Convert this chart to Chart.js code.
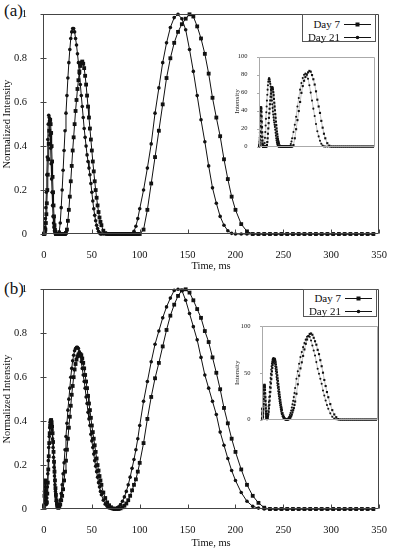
<!DOCTYPE html>
<html>
<head>
<meta charset="utf-8">
<script src="https://cdn.jsdelivr.net/npm/chart.js@4.4.1/dist/chart.umd.min.js"></script>
<style>
  html, body { margin:0; padding:0; background:#fff; }
  body { width:394px; height:550px; position:relative; overflow:hidden; font-family:"Liberation Serif","Times New Roman",serif; color:#111; }
  canvas { position:absolute; }
  .plab { position:absolute; font-size:17px; line-height:20px; }
  .legend { position:absolute; border:1px solid #555; background:#fff; box-sizing:border-box; }
  .legend .row { position:absolute; left:0; height:14px; line-height:14px; font-size:11px; }
  .legend .txt { position:absolute; top:0; text-align:right; white-space:nowrap; }
  .legend svg { position:absolute; top:0; }
</style>
</head>
<body>
<div class="plab" style="left:4px;top:1px">(a)</div>
<div class="plab" style="left:4px;top:279px">(b)</div>
<canvas id="mainA" width="394" height="275" style="left:0;top:0"></canvas>
<canvas id="mainB" width="394" height="275" style="left:0;top:275px"></canvas>
<canvas id="insetA" width="150" height="106" style="left:230px;top:48px"></canvas>
<canvas id="insetB" width="153" height="109" style="left:230px;top:318px"></canvas>
<div id="legA" class="legend" style="left:302px;top:14px;width:74px;height:28px"></div>
<div id="legB" class="legend" style="left:303px;top:289px;width:74px;height:28px"></div>
<script>
// ---------------- DATA ----------------
const seriesNames = ['Day 7', 'Day 21'];
const xTickValues = [0, 50, 100, 150, 200, 250, 300, 350];
const xTickLabels = ['0', '50', '100', '150', '200', '250', '300', '350'];
const yTickValues = [0, 0.2, 0.4, 0.6, 0.8, 1];
const yTickLabels = ['0', '0.2', '0.4', '0.6', '0.8', '1'];
const insetATickValues = [0, 20, 40, 60, 80, 100];
const insetATickLabels = ['0', '20', '40', '60', '80', '100'];
const insetBTickValues = [0, 50, 100];
const insetBTickLabels = ['0', '50', '100'];

// time, ms
const timeMs = [
  0,0.5,1,1.5,2,2.5,3,3.5,4,4.5,5,5.5,6,6.5,7,7.5,8,8.5,9,9.5,10,10.5,11,11.5,12,12.5,13,13.5,14,
  15,16,17,18,19,20,21,22,23,24,25,26,27,28,29,30,31,32,33,34,35,36,37,38,39,40,41,42,43,44,45,46,47,48,49,50,51,52,53,54,55,56,57,58,59,60,
  62,64,66,68,70,72,74,76,78,80,82,84,86,88,90,92,94,96,98,100,
  104,108,112,116,120,124,128,132,136,140,144,148,152,156,160,164,168,172,176,180,184,188,192,196,200,
  206,212,218,224,230,236,242,248,254,260,266,272,278,284,290,296,302,308,314,320,326,332,338,344
];

// panel (a) normalized intensity
const aDay7 = [
  0,0,0.01,0.02,0.05,0.09,0.14,0.2,0.27,0.34,0.41,0.47,0.51,0.52,0.5,0.46,0.4,0.33,0.26,0.19,0.13,0.08,0.04,0.02,0.01,0,0,0,0,
  0,0,0,0,0,0,0,0,0.005,0.02,0.06,0.11,0.17,0.24,0.31,0.38,0.44,0.5,0.56,0.61,0.66,0.7,0.74,0.765,0.78,0.785,0.775,0.755,0.72,0.68,0.63,0.58,0.53,0.48,0.43,0.38,0.33,0.285,0.24,0.2,0.165,0.13,0.1,0.075,0.055,0.04,
  0.015,0.004,0,0,0,0,0,0,0,0,0,0,0,0,0,0,0,0,0,0,
  0.02,0.11,0.23,0.35,0.47,0.59,0.71,0.8,0.87,0.92,0.955,0.98,1,0.99,0.945,0.89,0.82,0.73,0.62,0.53,0.445,0.34,0.25,0.17,0.11,
  0.045,0.012,0,0,0,0,0,0,0,0,0,0,0,0,0,0,0,0,0,0,0,0,0,0
];
const aDay21 = [
  0,0.01,0.03,0.07,0.12,0.19,0.27,0.35,0.43,0.5,0.54,0.53,0.5,0.45,0.39,0.32,0.25,0.19,0.13,0.08,0.05,0.03,0.015,0.005,0,0,0,0,0,
  0,0.01,0.05,0.12,0.2,0.29,0.38,0.47,0.55,0.63,0.71,0.78,0.84,0.89,0.92,0.935,0.935,0.92,0.89,0.86,0.82,0.78,0.73,0.68,0.63,0.58,0.53,0.48,0.44,0.4,0.36,0.33,0.3,0.27,0.23,0.19,0.15,0.115,0.085,0.06,0.04,0.025,0.012,0.005,0,0,
  0,0,0,0,0,0,0,0,0,0,0,0,0,0,0,0,0.012,0.035,0.07,0.115,
  0.2,0.3,0.41,0.55,0.665,0.78,0.87,0.94,0.985,1,0.98,0.93,0.84,0.74,0.63,0.52,0.42,0.31,0.21,0.14,0.08,0.04,0.015,0.003,0,
  0,0,0,0,0,0,0,0,0,0,0,0,0,0,0,0,0,0,0,0,0,0,0,0
];
// panel (b) normalized intensity
const bDay7 = [
  0.01,0.06,0.12,0.13,0.08,0.03,0.03,0.07,0.12,0.18,0.24,0.3,0.345,0.38,0.4,0.405,0.395,0.375,0.345,0.305,0.26,0.215,0.17,0.13,0.095,0.065,0.04,0.025,0.012,
  0.005,0.01,0.02,0.04,0.06,0.09,0.13,0.17,0.22,0.27,0.32,0.37,0.42,0.47,0.52,0.56,0.6,0.635,0.66,0.68,0.695,0.703,0.706,0.705,0.7,0.685,0.665,0.64,0.61,0.58,0.55,0.515,0.48,0.45,0.415,0.38,0.35,0.32,0.29,0.26,0.23,0.2,0.175,0.15,0.13,0.11,
  0.075,0.05,0.03,0.017,0.008,0.003,0,0,0,0.003,0.008,0.015,0.025,0.04,0.06,0.085,0.11,0.135,0.17,0.21,
  0.3,0.41,0.51,0.595,0.665,0.74,0.815,0.88,0.93,0.97,0.995,1,0.985,0.95,0.91,0.87,0.81,0.76,0.69,0.62,0.545,0.46,0.39,0.32,0.26,
  0.18,0.11,0.06,0.028,0.006,0,0,0,0,0,0,0,0,0,0,0,0,0,0,0,0,0,0,0
];
const bDay21 = [
  0.02,0.08,0.13,0.1,0.04,0.02,0.05,0.1,0.16,0.22,0.28,0.33,0.37,0.395,0.405,0.4,0.385,0.36,0.32,0.28,0.235,0.19,0.15,0.11,0.08,0.055,0.035,0.02,0.012,
  0.01,0.02,0.04,0.07,0.11,0.16,0.21,0.27,0.33,0.39,0.45,0.5,0.55,0.6,0.64,0.675,0.7,0.72,0.73,0.736,0.736,0.73,0.715,0.695,0.67,0.64,0.61,0.58,0.55,0.51,0.48,0.44,0.41,0.38,0.34,0.31,0.28,0.25,0.22,0.195,0.17,0.145,0.12,0.1,0.08,0.065,
  0.04,0.022,0.012,0.005,0.002,0,0,0.005,0.01,0.02,0.035,0.055,0.08,0.11,0.145,0.185,0.225,0.27,0.32,0.38,
  0.49,0.58,0.67,0.75,0.81,0.87,0.92,0.96,0.995,1,0.995,0.95,0.89,0.83,0.77,0.69,0.61,0.55,0.49,0.43,0.35,0.29,0.23,0.175,0.13,
  0.075,0.035,0.012,0.004,0,0,0,0,0,0,0,0,0,0,0,0,0,0,0,0,0,0,0,0
];
// raw peak intensities (insets)
const peakA = [84, 81];   // Day 7, Day 21
const peakB = [92, 89];   // Day 7, Day 21

// ---------------- HELPERS ----------------
const FONT = '"Liberation Serif", "Times New Roman", serif';
const pts = (ys, k) => timeMs.map((t, i) => ({ x: t, y: ys[i] * k }));

const frameTicks = {
  id: 'frameTicks',
  afterDraw(chart, args, o) {
    const { ctx, chartArea: a, scales: { x, y } } = chart;
    const L = Math.round(a.left) + 0.5, R = Math.round(a.right) - 0.5;
    const T = Math.round(a.top) + 0.5, B = Math.round(a.bottom) - 0.5;
    ctx.save();
    ctx.strokeStyle = o.color;
    ctx.lineWidth = 1;
    ctx.beginPath();
    ctx.rect(L, T, R - L, B - T);
    if (o.xIn) {
      o.xTicks.forEach(v => {
        const p = Math.round(x.getPixelForValue(v)) + 0.5;
        ctx.moveTo(p, B); ctx.lineTo(p, B - o.xIn);
      });
    }
    o.yTicks.forEach(v => {
      const p = Math.round(y.getPixelForValue(v)) + 0.5;
      ctx.moveTo(L - (o.yOut || 0), p); ctx.lineTo(L + (o.yIn || 0), p);
    });
    ctx.stroke();
    ctx.restore();
  }
};

function mainChart(id, d7, d21, pad, yW, xH, titlePadB) {
  return new Chart(document.getElementById(id), {
    type: 'line',
    data: {
      datasets: [
        { label: seriesNames[0], data: pts(d7, 1), borderColor: '#111', borderWidth: 1, pointStyle: 'rect',
          pointRadius: 2.7, pointBackgroundColor: '#111', pointBorderWidth: 0, clip: false, tension: 0 },
        { label: seriesNames[1], data: pts(d21, 1), borderColor: '#111', borderWidth: 1, pointStyle: 'circle',
          pointRadius: 1.8, pointBackgroundColor: '#111', pointBorderWidth: 0, clip: false, tension: 0 }
      ]
    },
    options: {
      responsive: false, animation: false, devicePixelRatio: 1,
      layout: { padding: pad },
      plugins: { legend: { display: false }, tooltip: { enabled: false },
        frameTicks: { color: '#444', xTicks: xTickValues, yTicks: yTickValues, xIn: 4, yIn: 3, yOut: 3 } },
      scales: {
        x: { type: 'linear', min: -1, max: 350,
          afterBuildTicks: s => { s.ticks = xTickValues.map(v => ({ value: v })); },
          afterFit: s => { s.height = xH; },
          grid: { display: false }, border: { display: false },
          ticks: { color: '#111', font: { family: FONT, size: 10.5 }, padding: 7, maxRotation: 0, autoSkip: false,
            callback: (v, i) => xTickLabels[i] },
          title: { display: true, text: 'Time, ms', color: '#111', font: { family: FONT, size: 10.5 }, padding: { top: 0, bottom: titlePadB } } },
        y: { type: 'linear', min: 0, max: 1,
          afterBuildTicks: s => { s.ticks = yTickValues.map(v => ({ value: v })); },
          afterFit: s => { s.width = yW; },
          grid: { display: false }, border: { display: false },
          ticks: { color: '#111', font: { family: FONT, size: 10.5 }, padding: 8, autoSkip: false,
            callback: (v, i) => yTickLabels[i] },
          title: { display: true, text: 'Normalized Intensity', color: '#111', font: { family: FONT, size: 10.5 }, padding: { top: 1, bottom: 0 } } }
      }
    },
    plugins: [frameTicks]
  });
}

function insetChart(id, d7, d21, peaks, tv, tl, pad, yW) {
  return new Chart(document.getElementById(id), {
    type: 'line',
    data: {
      datasets: [
        { label: seriesNames[0], data: pts(d7, peaks[0]), borderColor: '#999', borderWidth: 0.6, pointStyle: 'rect',
          pointRadius: 1.5, pointBackgroundColor: '#111', pointBorderWidth: 0, clip: false, tension: 0 },
        { label: seriesNames[1], data: pts(d21, peaks[1]), borderColor: '#999', borderWidth: 0.6, pointStyle: 'circle',
          pointRadius: 1.05, pointBackgroundColor: '#111', pointBorderWidth: 0, clip: false, tension: 0 }
      ]
    },
    options: {
      responsive: false, animation: false, devicePixelRatio: 1,
      layout: { padding: pad },
      plugins: { legend: { display: false }, tooltip: { enabled: false },
        frameTicks: { color: '#aaa', xTicks: [], yTicks: tv, xIn: 0, yIn: 0, yOut: 2.5 } },
      scales: {
        x: { type: 'linear', min: 0, max: 350, display: false },
        y: { type: 'linear', min: 0, max: 100,
          afterBuildTicks: s => { s.ticks = tv.map(v => ({ value: v })); },
          afterFit: s => { s.width = yW; },
          grid: { display: false }, border: { display: false },
          ticks: { color: '#222', font: { family: FONT, size: 6.5 }, padding: 3.5, autoSkip: false,
            callback: (v, i) => tl[i] },
          title: { display: true, text: 'Intensity', color: '#222', font: { family: FONT, size: 7 }, padding: { top: 2.5, bottom: 0 } } }
      }
    },
    plugins: [frameTicks]
  });
}

function legend(id, rowTops) {
  const box = document.getElementById(id);
  seriesNames.forEach((name, i) => {
    const row = document.createElement('div');
    row.className = 'row';
    row.style.top = rowTops[i] + 'px';
    row.style.width = '72px';
    const t = document.createElement('span');
    t.className = 'txt';
    t.style.right = '35px';
    t.textContent = name;
    row.appendChild(t);
    const ns = 'http://www.w3.org/2000/svg';
    const svg = document.createElementNS(ns, 'svg');
    svg.setAttribute('width', '28'); svg.setAttribute('height', '14');
    svg.style.left = '41px';
    const ln = document.createElementNS(ns, 'line');
    ln.setAttribute('x1', '0'); ln.setAttribute('x2', '27'); ln.setAttribute('y1', '7.5'); ln.setAttribute('y2', '7.5');
    ln.setAttribute('stroke', '#111'); ln.setAttribute('stroke-width', '1');
    svg.appendChild(ln);
    let m;
    if (i === 0) {
      m = document.createElementNS(ns, 'rect');
      m.setAttribute('x', '11.5'); m.setAttribute('y', '5.5'); m.setAttribute('width', '4'); m.setAttribute('height', '4');
    } else {
      m = document.createElementNS(ns, 'circle');
      m.setAttribute('cx', '13.5'); m.setAttribute('cy', '7.5'); m.setAttribute('r', '1.8');
    }
    m.setAttribute('fill', '#111');
    svg.appendChild(m);
    row.appendChild(svg);
    box.appendChild(row);
  });
}

mainChart('mainA', aDay7, aDay21, { left: 0, right: 13, top: 9, bottom: 0 }, 43, 41, 2);
mainChart('mainB', bDay7, bDay21, { left: 0, right: 11.5, top: 9, bottom: 0 }, 43, 41, 0);
insetChart('insetA', aDay7, aDay21, peakA, insetATickValues, insetATickLabels, { left: 0, right: 5, top: 8.5, bottom: 4 }, 29);
insetChart('insetB', bDay7, bDay21, peakB, insetBTickValues, insetBTickLabels, { left: 0, right: 5, top: 8, bottom: 4.5 }, 32);
legend('legA', [1.5, 14.5]);
legend('legB', [0.5, 13.5]);
</script>
</body>
</html>
